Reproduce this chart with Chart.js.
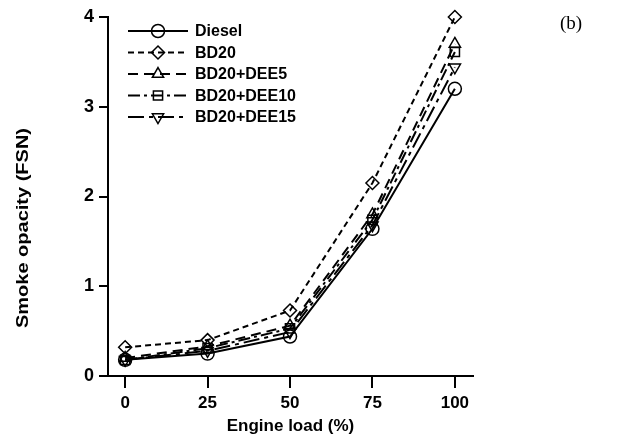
<!DOCTYPE html>
<html>
<head>
<meta charset="utf-8">
<script src="https://cdn.jsdelivr.net/npm/chart.js@4"></script>
<style>
  html, body { margin: 0; padding: 0; background: #fff; }
  #wrap { width: 619px; height: 440px; position: relative; }
</style>
</head>
<body>
<div id="wrap"><canvas id="c" width="619" height="440"></canvas></div>
<script>
// engine load (%)
const loads = [0, 25, 50, 75, 100];
// smoke opacity (FSN)
const diesel    = [0.18, 0.25, 0.44, 1.64, 3.20];
const bd20      = [0.32, 0.40, 0.73, 2.15, 4.00];
const bd20dee5  = [0.20, 0.33, 0.56, 1.80, 3.70];
const bd20dee10 = [0.18, 0.31, 0.53, 1.74, 3.61];
const bd20dee15 = [0.18, 0.28, 0.49, 1.68, 3.44];
const yTicks = [0, 1, 2, 3, 4];

const FONT = '"Liberation Sans", Arial, sans-serif';
const pts = arr => arr.map((v, i) => ({ x: loads[i], y: v }));

const series = [
  { label: 'Diesel',      data: diesel,    dash: [],            style: 'circle',   rot: 0 },
  { label: 'BD20',        data: bd20,      dash: [6, 4],        style: 'rectRot',  rot: 0 },
  { label: 'BD20+DEE5',   data: bd20dee5,  dash: [10, 6],       style: 'triangle', rot: 0 },
  { label: 'BD20+DEE10',  data: bd20dee10, dash: [12, 4, 3, 4], style: 'rect',     rot: 0 },
  { label: 'BD20+DEE15',  data: bd20dee15, dash: [16, 5, 4, 5], style: 'triangle', rot: 180 }
];

// legend (line + open marker + label), y title and panel tag
const extras = {
  id: 'extras',
  afterDraw(chart) {
    const ctx = chart.ctx;
    ctx.save();
    chart.data.datasets.forEach((ds, i) => {
      const y = 31 + i * 21.5;
      ctx.strokeStyle = '#000';
      ctx.lineWidth = 2;
      ctx.setLineDash(ds.borderDash);
      ctx.beginPath(); ctx.moveTo(128, y); ctx.lineTo(188, y); ctx.stroke();
      ctx.setLineDash([]);
      ctx.fillStyle = 'rgba(0,0,0,0)';
      ctx.lineWidth = 1.5;
      Chart.helpers.drawPoint(ctx, {
        pointStyle: ds.pointStyle, rotation: ds.pointRotation,
        radius: ds.pointRadius, borderWidth: 1.5
      }, 158, y);
      ctx.fillStyle = '#000';
      ctx.font = 'bold 16px ' + FONT;
      ctx.textBaseline = 'middle';
      ctx.textAlign = 'left';
      ctx.fillText(ds.label, 195, y + 1);
    });

    // y axis title, drawn long and thin like the source figure
    ctx.save();
    ctx.translate(24, 228);
    ctx.rotate(-Math.PI / 2);
    ctx.scale(1.25, 1);
    ctx.font = 'bold 16px ' + FONT;
    ctx.textAlign = 'center';
    ctx.textBaseline = 'middle';
    ctx.fillText('Smoke opacity (FSN)', 0, 0);
    ctx.restore();

    ctx.font = '19px "Liberation Serif", "Times New Roman", serif';
    ctx.textAlign = 'left';
    ctx.textBaseline = 'alphabetic';
    ctx.fillText('(b)', 560, 29);
    ctx.restore();
  }
};

new Chart(document.getElementById('c'), {
  type: 'line',
  data: {
    datasets: series.map(s => ({
      label: s.label,
      data: pts(s.data),
      borderColor: '#000',
      borderWidth: 2,
      borderDash: s.dash,
      pointStyle: s.style,
      pointRotation: s.rot,
      pointRadius: 6.5,
      pointBorderWidth: 1.5,
      pointBorderColor: '#000',
      pointBackgroundColor: 'rgba(0,0,0,0)',
      fill: false,
      clip: false,
      tension: 0
    }))
  },
  options: {
    responsive: false,
    animation: false,
    layout: { padding: { left: 0, right: 146, top: 17, bottom: 0 } },
    plugins: { legend: { display: false }, tooltip: { enabled: false } },
    scales: {
      x: {
        type: 'linear', min: -5.2, max: 105.5,
        afterBuildTicks: s => { s.ticks = loads.map(v => ({ value: v })); },
        afterFit: s => { s.height = 64; },
        grid: { display: true, drawOnChartArea: false, drawTicks: true, tickLength: 12, color: '#000', lineWidth: 2 },
        border: { display: true, color: '#000', width: 2 },
        ticks: { color: '#000', font: { family: FONT, size: 17, weight: 'bold' }, padding: 5, maxRotation: 0 },
        title: { display: true, text: 'Engine load (%)', color: '#000', font: { family: FONT, size: 17, weight: 'bold' }, padding: { top: 0, bottom: 3 } }
      },
      y: {
        min: 0, max: 4,
        afterBuildTicks: s => { s.ticks = yTicks.map(v => ({ value: v })); },
        afterFit: s => { s.width = 108; },
        grid: { display: true, drawOnChartArea: false, drawTicks: true, tickLength: 9, color: '#000', lineWidth: 2 },
        border: { display: true, color: '#000', width: 2 },
        ticks: { color: '#000', font: { family: FONT, size: 18, weight: 'bold' }, padding: 5 }
      }
    }
  },
  plugins: [extras]
});
</script>
</body>
</html>
